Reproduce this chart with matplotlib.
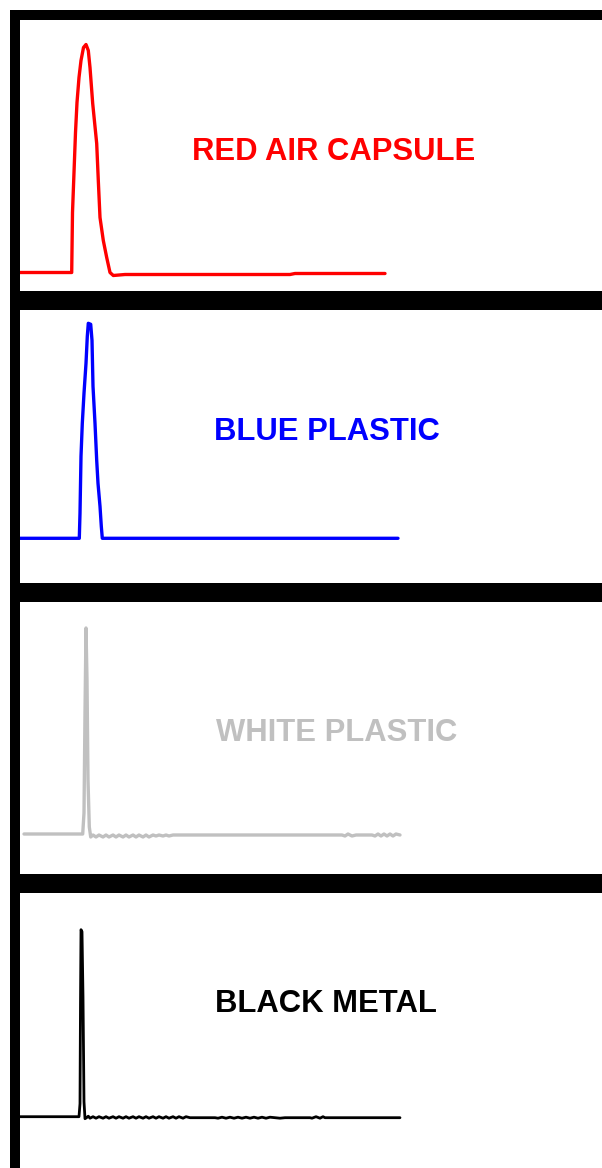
import matplotlib
matplotlib.use("Agg")
import matplotlib.pyplot as plt

# ---- data (time in arbitrary units, amplitude in arbitrary units) ----
labels = ["RED AIR CAPSULE", "BLUE PLASTIC", "WHITE PLASTIC", "BLACK METAL"]
colors = ["#ff0000", "#0000ff", "#c0c0c0", "#000000"]

red_t = [15, 53, 71.7, 72.5, 74, 75.5, 77, 79, 81, 83.5, 86, 88.3, 90,
         92.7, 96.7, 98.3, 100, 103.3, 106.7, 110, 113.3, 125, 290, 295, 350, 385]
red_a = [0, 0, 0, 60, 100, 140, 170, 195, 212, 225, 228, 222, 205,
         169, 129, 92, 55, 32, 15, 0, -3, -2, -2, -1, -1, -1]

blue_t = [20, 79.3, 80, 81, 82.3, 84, 86, 87.3, 88.3, 90.7, 92, 93, 95, 96.7,
          98, 100, 101.3, 102.3, 398]
blue_a = [0, 0, 25, 82, 115, 145, 175, 202, 215, 214, 198, 152, 115, 78,
          55, 32, 12, 0, 0]

white_t = [24, 82.7, 84, 85, 86, 87, 88, 89.3, 90.7, 93, 96, 99, 103, 106, 109,
           113, 116, 119, 123, 126, 129, 133, 136, 139, 143, 146, 149, 153, 156,
           159, 163, 166, 169, 173, 178, 230, 300, 342, 345, 348, 352, 356, 372,
           375, 378, 381, 384, 387, 390, 393, 396, 400]
white_a = [0, 0, 21, 121, 206, 154, 54, 7, -3, -1, -3, -1, -3, -1, -3,
           -1, -3, -1, -3, -1, -3, -1, -3, -1, -3, -1, -3, -1, -2,
           -1, -2, -1, -2, -1, -1, -1, -1, -1, -2, 0, -2, -1, -1,
           -2, 0, -2, 0, -2, 0, -2, 0, -1]

black_t = [20, 79, 80, 80.5, 81, 82, 83, 84, 85, 86.5, 88.3, 90, 93, 96,
           99, 103, 106, 109, 113, 116, 119, 123, 126, 129, 133, 136, 139, 143,
           146, 149, 153, 156, 159, 163, 166, 169, 173, 176, 179, 183, 186, 190,
           200, 215, 218, 222, 226, 230, 234, 238, 242, 246, 250, 254, 258, 262,
           266, 270, 275, 280, 285, 290, 300, 310, 312, 316, 320, 323, 325, 400]
black_a = [0, 0, 13, 113, 187, 185, 120, 15, -2, -1, 0.5, -1.5, 0, -1.5,
           0, -1.5, 0, -1.5, 0, -1.5, 0, -1.5, 0, -1.5, 0, -1.5, 0, -1.5,
           0, -1.5, 0, -1.5, 0, -1.5, 0, -1.5, 0, -1.5, 0, -1.5, 0, -1,
           -1, -1, -1.5, -0.5, -1.5, -0.5, -1.5, -0.5, -1.5, -0.5, -1.5, -0.5, -1.5, -0.5,
           -1.5, -0.5, -1, -1.5, -1, -1, -1, -1, -1.5, 0, -1.5, 0, -1, -1]

series_t = [red_t, blue_t, white_t, black_t]
series_a = [red_a, blue_a, white_a, black_a]

# ---- layout (pixels) ----
W, H = 602, 1168
panel_top = [15, 305, 597, 888]
panel_bot = [295.5, 587.5, 878.5, 1170]
baseline = [272.5, 538.3, 834, 1116.7]
left_px, right_px = 14.5, 650
label_xy = [(334, 151.5), (327, 432), (337, 733), (326, 1004)]

fig = plt.figure(figsize=(W / 100, H / 100), dpi=100)
fig.patch.set_facecolor("white")

for i in range(4):
    ax = fig.add_axes([left_px / W, 1 - panel_bot[i] / H,
                       (right_px - left_px) / W, (panel_bot[i] - panel_top[i]) / H])
    ax.set_xlim(left_px, right_px)
    ax.set_ylim(baseline[i] - panel_bot[i], baseline[i] - panel_top[i])
    for s in ["left", "top", "bottom"]:
        ax.spines[s].set_linewidth(7.2)
        ax.spines[s].set_color("black")
    ax.spines["right"].set_visible(False)
    ax.set_xticks([])
    ax.set_yticks([])
    ax.plot(series_t[i], series_a[i], color=colors[i],
            lw=2.4 if i < 3 else 2.0, solid_joinstyle="round",
            solid_capstyle="round")
    lx, ly = label_xy[i]
    ax.text(lx, baseline[i] - ly, labels[i], color=colors[i],
            fontsize=22.3, fontweight="bold", family="Liberation Sans",
            ha="center", va="center")

fig.savefig("out.png", dpi=100)
